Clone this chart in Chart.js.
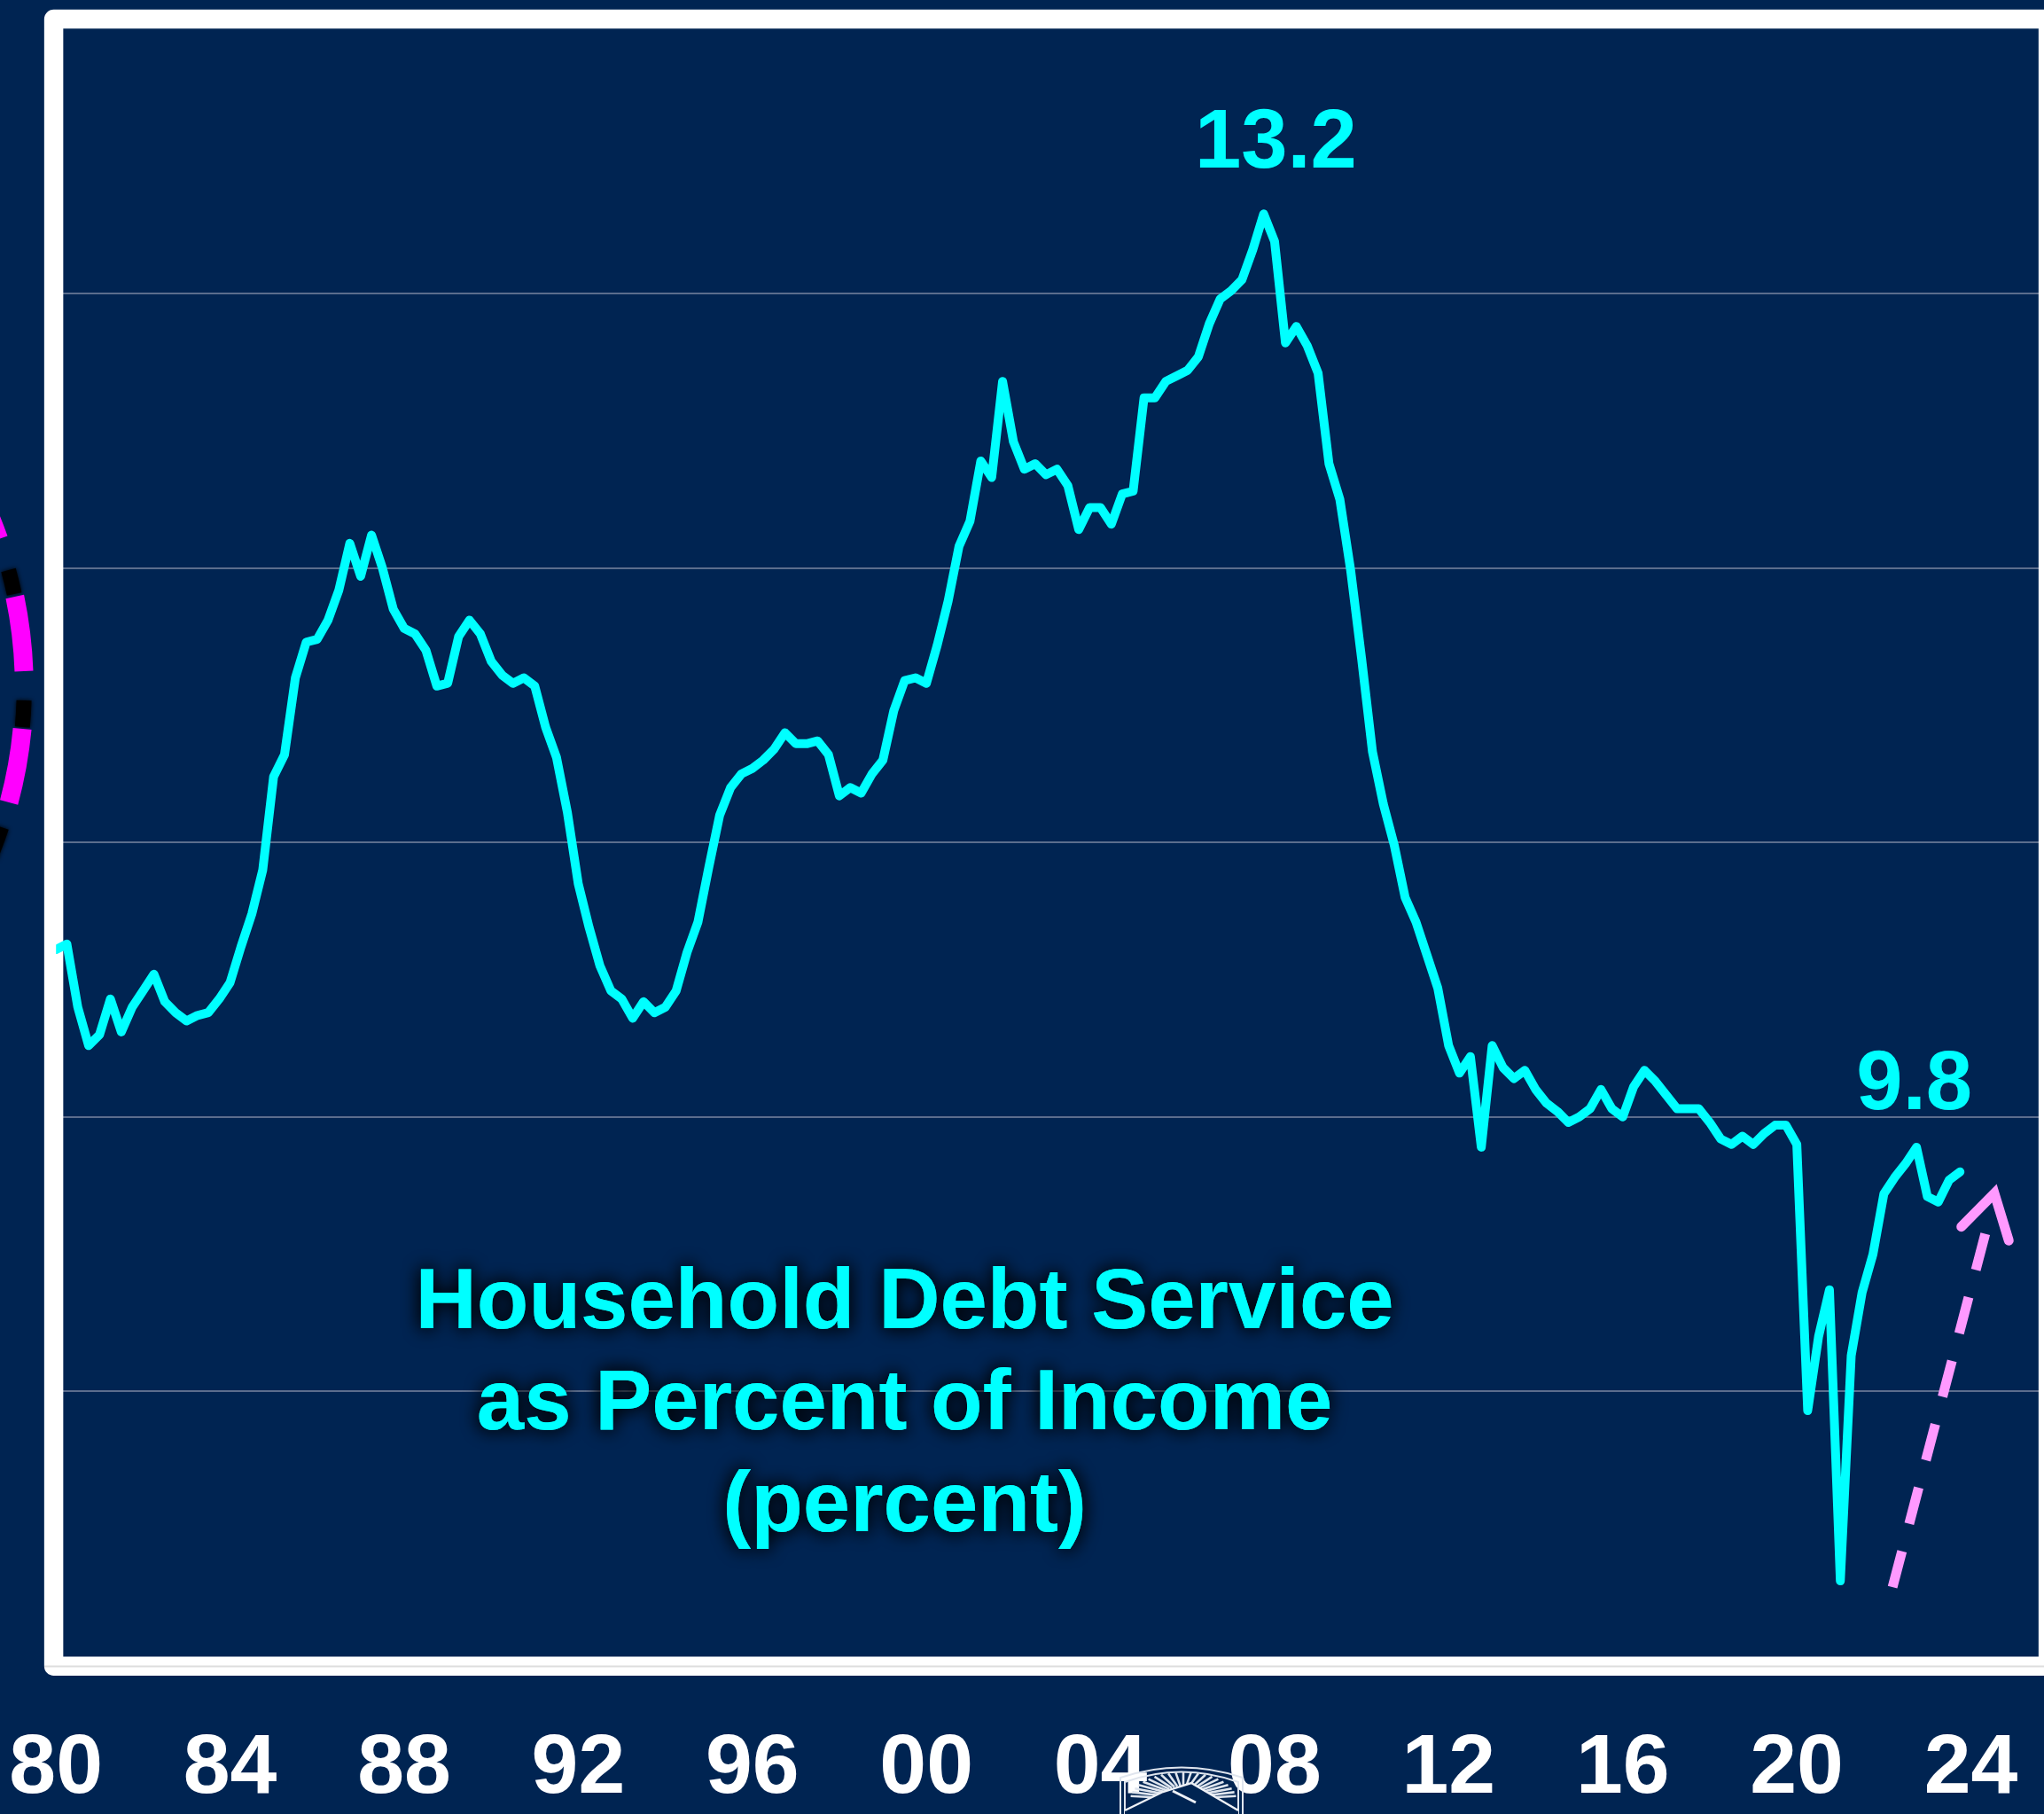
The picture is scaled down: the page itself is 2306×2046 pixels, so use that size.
<!DOCTYPE html>
<html>
<head>
  <meta charset="utf-8">
  <title>Household Debt Service</title>
  <script src="https://cdn.jsdelivr.net/npm/chart.js"></script>
  <style>
    html, body { margin: 0; padding: 0; background: #002452; }
    canvas { display: block; }
  </style>
</head>
<body>
  <canvas id="chart" width="2306" height="2046"></canvas>

  <script>
    // quarterly, 1980Q1 to 2023Q4
    const debtService = [
      10.61, 10.63, 10.40, 10.26, 10.30, 10.43, 10.31, 10.40, 10.46, 10.52,
      10.42, 10.38, 10.35, 10.37, 10.38, 10.43, 10.49, 10.62, 10.74, 10.90,
      11.24, 11.32, 11.60, 11.73, 11.74, 11.81, 11.92, 12.09, 11.97, 12.12,
      12.00, 11.85, 11.78, 11.76, 11.70, 11.57, 11.58, 11.75, 11.81, 11.76,
      11.66, 11.61, 11.58, 11.60, 11.57, 11.42, 11.31, 11.11, 10.85, 10.69,
      10.55, 10.46, 10.43, 10.36, 10.42, 10.38, 10.40, 10.46, 10.60, 10.71,
      10.91, 11.10, 11.20, 11.25, 11.27, 11.30, 11.34, 11.40, 11.36, 11.36,
      11.37, 11.32, 11.17, 11.20, 11.18, 11.25, 11.30, 11.48, 11.59, 11.60,
      11.58, 11.72, 11.88, 12.08, 12.17, 12.39, 12.33, 12.68, 12.46, 12.36,
      12.38, 12.34, 12.36, 12.30, 12.14, 12.22, 12.22, 12.16, 12.27, 12.28,
      12.62, 12.62, 12.68, 12.70, 12.72, 12.77, 12.89, 12.98, 13.01, 13.05,
      13.16, 13.29, 13.19, 12.82, 12.88, 12.81, 12.71, 12.38, 12.25, 11.99,
      11.67, 11.33, 11.14, 10.99, 10.80, 10.71, 10.59, 10.47, 10.26, 10.16,
      10.22, 9.89, 10.26, 10.18, 10.14, 10.17, 10.10, 10.05, 10.02, 9.98,
      10.00, 10.03, 10.10, 10.03, 10.00, 10.11, 10.17, 10.13, 10.08, 10.03,
      10.03, 10.03, 9.98, 9.92, 9.90, 9.93, 9.90, 9.94, 9.97, 9.97,
      9.90, 8.93, 9.20, 9.37, 8.31, 9.13, 9.36, 9.50, 9.72, 9.78,
      9.83, 9.89, 9.71, 9.69, 9.77, 9.80
    ];
    const arrowShaftX = [2022.2, 2024.34];
    const arrowShaftY = [8.287, 9.58];
    const arrowHeadX = [2023.78, 2024.54, 2024.87];
    const arrowHeadY = [9.60, 9.722, 9.55];
    const peakLabels = ['13.2', '9.8'];
    const peakLabelX = [2008.03, 2022.7];
    const peakLabelY = [13.46, 10.03];
    const titleLines = ['Household Debt Service', 'as Percent of Income', '(percent)'];
    const titleX = 1999.5;
    const titleY = [9.232, 8.861, 8.49];

    const CYAN = '#00ffff';
    const NAVY = '#002452';

    function xy(xs, ys) {
      return xs.map((x, i) => ({ x: x, y: ys[i] }));
    }

    // white frame, the seal under the axis labels and the cut off circle at the left
    const backdrop = {
      id: 'backdrop',
      beforeDatasetsDraw(chart) {
        const ctx = chart.ctx;
        ctx.save();
        ctx.strokeStyle = '#ffffff';
        ctx.lineWidth = 21.5;
        ctx.lineJoin = 'round';
        ctx.strokeRect(60.6, 21.6, 2250, 1857.6);
        ctx.strokeStyle = '#dddddd';
        ctx.lineWidth = 2;
        ctx.beginPath();
        ctx.moveTo(50, 1879.5);
        ctx.lineTo(2306, 1879.5);
        ctx.stroke();

        // dashed circle
        const cx = -472.7, cy = 775, r = 500;
        const arc = (y0, y1, color, width, blur) => {
          ctx.beginPath();
          ctx.arc(cx, cy, r, Math.asin((y0 - cy) / r), Math.asin((y1 - cy) / r));
          ctx.strokeStyle = color;
          ctx.lineWidth = width;
          ctx.shadowColor = blur ? '#000000' : 'transparent';
          ctx.shadowBlur = blur;
          ctx.stroke();
        };
        [[505, 535], [643, 670], [790, 820], [933, 967]].forEach(s => arc(s[0], s[1], '#000000', 17, 5));
        [[540, 608], [673, 757], [822, 905]].forEach(s => arc(s[0], s[1], '#ff00ff', 21, 0));
        ctx.restore();

        drawSeal(ctx);
      }
    };

    function drawSeal(ctx) {
      ctx.save();
      ctx.strokeStyle = '#dfe5ee';
      ctx.lineWidth = 2;
      [0, 5].forEach(d => {
        ctx.beginPath();
        ctx.moveTo(1264 + d, 2046);
        ctx.lineTo(1264 + d, 2005 + d);
        ctx.quadraticCurveTo(1333, 1982 + d, 1402 - d, 2005 + d);
        ctx.lineTo(1402 - d, 2046);
        ctx.stroke();
      });
      ctx.lineWidth = 2.6;
      for (let a = -172; a <= -8; a += 8.2) {
        const t = a * Math.PI / 180;
        ctx.beginPath();
        ctx.moveTo(1335 + 24 * Math.cos(t), 2030 + 16 * Math.sin(t));
        ctx.lineTo(1335 + 60 * Math.cos(t), 2030 + 31 * Math.sin(t));
        ctx.stroke();
      }
      ctx.fillStyle = NAVY;
      ctx.beginPath();
      ctx.moveTo(1269, 2042);
      ctx.lineTo(1312, 2021);
      ctx.lineTo(1344, 2011);
      ctx.lineTo(1397, 2042);
      ctx.lineTo(1397, 2046);
      ctx.lineTo(1269, 2046);
      ctx.closePath();
      ctx.fill();
      ctx.lineWidth = 2.4;
      ctx.strokeStyle = '#eef1f6';
      ctx.beginPath();
      ctx.moveTo(1269, 2042);
      ctx.lineTo(1312, 2021);
      ctx.lineTo(1344, 2011);
      ctx.lineTo(1397, 2042);
      ctx.stroke();
      ctx.lineWidth = 3;
      ctx.beginPath();
      ctx.moveTo(1323, 2020);
      ctx.lineTo(1349, 2033);
      ctx.stroke();
      ctx.restore();
    }

    // texts placed through the scales
    const texts = {
      id: 'texts',
      afterDatasetsDraw(chart) {
        const ctx = chart.ctx;
        const sx = chart.scales.x, sy = chart.scales.y;
        ctx.save();
        ctx.textAlign = 'center';
        ctx.textBaseline = 'alphabetic';
        ctx.fillStyle = CYAN;
        ctx.font = 'bold 94px "Liberation Sans"';
        peakLabels.forEach((t, i) => {
          ctx.fillText(t, sx.getPixelForValue(peakLabelX[i]), sy.getPixelForValue(peakLabelY[i]));
        });
        ctx.font = 'bold 96px "Liberation Sans"';
        ctx.shadowColor = 'rgba(0,0,0,0.8)';
        ctx.shadowBlur = 20;
        titleLines.forEach((t, i) => {
          const x = sx.getPixelForValue(titleX), y = sy.getPixelForValue(titleY[i]);
          ctx.fillText(t, x, y);
          ctx.fillText(t, x, y);
        });
        ctx.restore();
      }
    };

    new Chart(document.getElementById('chart'), {
      type: 'line',
      data: {
        datasets: [
          {
            data: debtService.map((v, i) => ({ x: 1980 + i / 4, y: v })),
            borderColor: CYAN,
            borderWidth: 10,
            borderCapStyle: 'round',
            borderJoinStyle: 'round',
            pointRadius: 0,
            tension: 0
          },
          {
            data: xy(arrowShaftX, arrowShaftY),
            borderColor: '#ff99ff',
            borderWidth: 11,
            borderDash: [42, 32],
            pointRadius: 0,
            tension: 0
          },
          {
            data: xy(arrowHeadX, arrowHeadY),
            borderColor: '#ff99ff',
            borderWidth: 11,
            borderCapStyle: 'round',
            borderJoinStyle: 'miter',
            pointRadius: 0,
            tension: 0
          }
        ]
      },
      options: {
        responsive: false,
        animation: false,
        layout: { padding: { top: 21.5, left: 0, right: 0, bottom: 0 } },
        plugins: {
          legend: { display: false },
          tooltip: { enabled: false },
          title: { display: false }
        },
        scales: {
          x: {
            type: 'linear',
            min: 1980,
            max: 2025.68,
            afterFit: s => { s.height = 167; s.paddingLeft = 0; s.paddingRight = 0; },
            grid: { display: false },
            border: { display: false },
            ticks: {
              stepSize: 4,
              includeBounds: false,
              autoSkip: false,
              maxRotation: 0,
              color: '#ffffff',
              padding: 52,
              font: { family: '"Liberation Sans"', size: 95, weight: 'bold' },
              callback: v => String(v).slice(2)
            }
          },
          y: {
            min: 8,
            max: 14,
            afterFit: s => { s.width = 63.2; s.paddingTop = 0; s.paddingBottom = 0; },
            border: { display: false },
            grid: { color: '#5b6d8d', lineWidth: 2, drawTicks: false },
            ticks: { display: false, stepSize: 1 }
          }
        }
      },
      plugins: [backdrop, texts]
    });
  </script>
</body>
</html>
